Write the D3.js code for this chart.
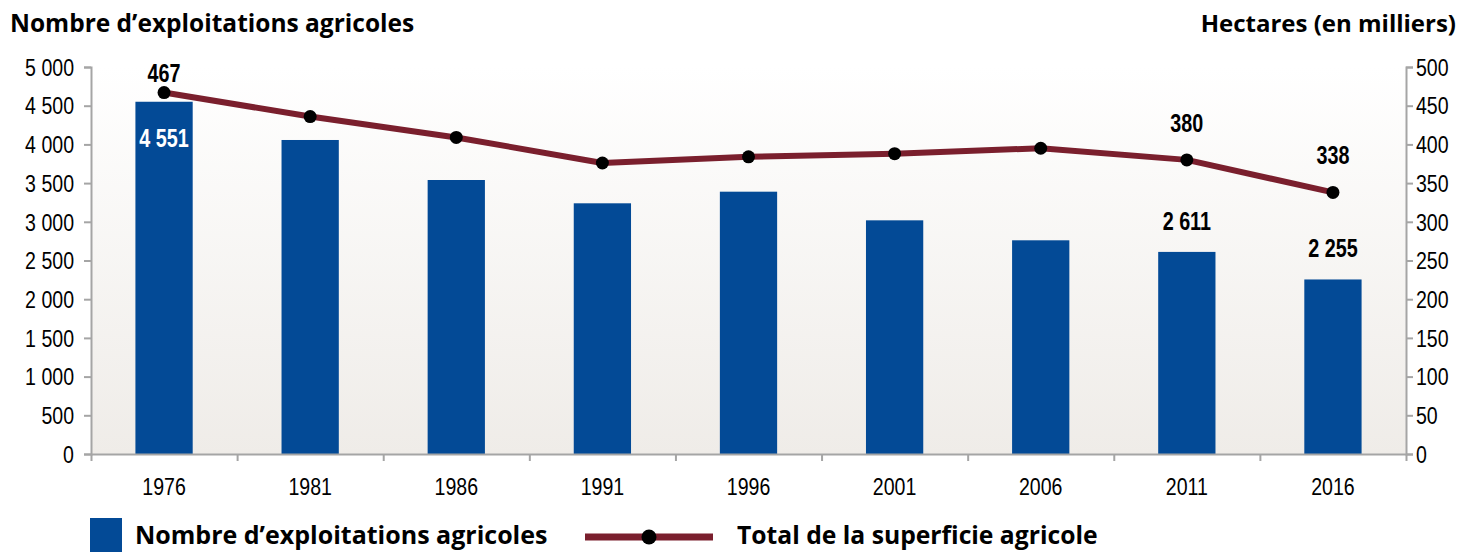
<!DOCTYPE html>
<html>
<head>
<meta charset="utf-8">
<script src="https://cdn.jsdelivr.net/npm/d3@7"></script>
<style>
  html, body { margin: 0; padding: 0; background: #fff; }
  svg text { fill: #000; }
  .narrow { font-family: "Liberation Sans", Arial, sans-serif; }
  .title { font-family: "Open Sans", "Noto Sans", sans-serif; font-weight: 700; }
</style>
</head>
<body>
<div id="chart"></div>
<script>
// Data
const years = ["1976", "1981", "1986", "1991", "1996", "2001", "2006", "2011", "2016"];
const farms = [4551, 4057, 3540, 3239, 3389, 3019, 2761, 2611, 2255];
const hectares = [467, 436, 409, 376, 384, 388, 395, 380, 338];
const leftTicks = [0, 500, 1000, 1500, 2000, 2500, 3000, 3500, 4000, 4500, 5000];
const rightTicks = [0, 50, 100, 150, 200, 250, 300, 350, 400, 450, 500];
const farmLabelYears = ["1976", "2011", "2016"];
const haLabelYears = ["1976", "2011", "2016"];

// Colors
const barColor = "#034a96";
const lineColor = "#7a1f2d";
const axisColor = "#a5a5a5";

const width = 1465, height = 552;
const plotLeft = 91, plotRight = 1406, plotTop = 67, plotBottom = 454;

const fr = d3.formatLocale({ decimal: ",", thousands: " ", grouping: [3], currency: ["", " €"] });
const fmt = fr.format(",d");

// squeeze text horizontally to mimic a condensed face
function squeeze(sel, k) {
    sel.each(function () {
        const w = this.getComputedTextLength();
        d3.select(this).attr("textLength", w * k).attr("lengthAdjust", "spacingAndGlyphs");
    });
}

const svg = d3.select("#chart").append("svg")
    .attr("width", width)
    .attr("height", height)
    .attr("viewBox", [0, 0, width, height]);

const x = d3.scaleBand().domain(years).range([plotLeft, plotRight]).paddingInner(0.608).paddingOuter(0.304);
const yL = d3.scaleLinear().domain([0, 5000]).range([plotBottom, plotTop]);
const yR = d3.scaleLinear().domain([0, 500]).range([plotBottom, plotTop]);

// Plot background gradient
const grad = svg.append("defs").append("linearGradient")
    .attr("id", "bg").attr("x1", 0).attr("y1", 0).attr("x2", 0).attr("y2", 1);
grad.append("stop").attr("offset", "0%").attr("stop-color", "#ffffff");
grad.append("stop").attr("offset", "100%").attr("stop-color", "#efece8");

svg.append("rect")
    .attr("x", plotLeft).attr("y", plotTop)
    .attr("width", plotRight - plotLeft).attr("height", plotBottom - plotTop)
    .attr("fill", "url(#bg)");

// Bars
svg.append("g")
    .selectAll("rect")
    .data(years)
    .join("rect")
    .attr("x", d => x(d))
    .attr("y", (d, i) => yL(farms[i]))
    .attr("width", x.bandwidth())
    .attr("height", (d, i) => plotBottom - yL(farms[i]))
    .attr("fill", barColor);

// Axes
function styleAxis(g) {
    g.select(".domain").attr("stroke", axisColor).attr("stroke-width", 2);
    g.selectAll(".tick line").attr("stroke", axisColor).attr("stroke-width", 2);
    g.selectAll("text")
        .attr("class", "narrow")
        .style("font-size", "23px")
        .attr("fill", "#000")
        .call(squeeze, 0.85);
}

svg.append("g")
    .attr("transform", `translate(${plotLeft},0)`)
    .call(d3.axisLeft(yL).tickValues(leftTicks).tickFormat(fmt).tickSize(7).tickPadding(10))
    .call(g => g.selectAll("text").attr("dy", "0.36em"))
    .call(styleAxis);

svg.append("g")
    .attr("transform", `translate(${plotRight},0)`)
    .call(d3.axisRight(yR).tickValues(rightTicks).tickFormat(fmt).tickSize(7).tickPadding(3))
    .call(g => g.selectAll("text").attr("dy", "0.36em"))
    .call(styleAxis);

// x axis: tick marks on band edges, labels at centres
const edges = d3.scaleLinear().domain([0, years.length]).range([plotLeft, plotRight]);
svg.append("g")
    .attr("transform", `translate(0,${plotBottom})`)
    .call(d3.axisBottom(edges).tickValues(d3.range(0, years.length + 1)).tickFormat("").tickSize(7).tickSizeOuter(0))
    .call(styleAxis);

svg.append("g")
    .attr("transform", `translate(0,${plotBottom})`)
    .call(d3.axisBottom(x).tickSize(0).tickPadding(25))
    .call(g => g.select(".domain").remove())
    .call(styleAxis);

// Line
const line = d3.line()
    .x((d, i) => x(years[i]) + x.bandwidth() / 2)
    .y(d => yR(d));

svg.append("path")
    .datum(hectares)
    .attr("d", line)
    .attr("fill", "none")
    .attr("stroke", lineColor)
    .attr("stroke-width", 6)
    .attr("stroke-linejoin", "round");

svg.append("g")
    .selectAll("circle")
    .data(hectares)
    .join("circle")
    .attr("cx", (d, i) => x(years[i]) + x.bandwidth() / 2)
    .attr("cy", d => yR(d))
    .attr("r", 6.5)
    .attr("fill", "#000");

// Value labels
const labels = svg.append("g").attr("class", "narrow")
    .style("font-size", "25px").style("font-weight", "700")
    .attr("text-anchor", "middle");

years.forEach((yr, i) => {
    const cx = x(yr) + x.bandwidth() / 2;
    if (haLabelYears.includes(yr)) {
        labels.append("text")
            .attr("x", cx)
            .attr("y", yR(hectares[i]) - (i === 0 ? 11 : 28))
            .text(fmt(hectares[i]));
    }
    if (farmLabelYears.includes(yr)) {
        const inside = i === 0;
        labels.append("text")
            .attr("x", cx)
            .attr("y", inside ? yL(farms[i]) + 45 : yL(farms[i]) - 22)
            .style("fill", inside ? "#fff" : "#000")
            .text(fmt(farms[i]));
    }
});
labels.selectAll("text").call(squeeze, 0.79);

// Titles
svg.append("text").attr("class", "title")
    .attr("x", 10).attr("y", 32)
    .style("font-size", "24.5px")
    .text("Nombre d’exploitations agricoles");

svg.append("text").attr("class", "title")
    .attr("x", 1456).attr("y", 32)
    .attr("text-anchor", "end")
    .style("font-size", "24px")
    .text("Hectares (en milliers)");

// Legend
const legend = svg.append("g");
legend.append("rect")
    .attr("x", 90).attr("y", 518).attr("width", 32).attr("height", 34)
    .attr("fill", barColor);
legend.append("text").attr("class", "title")
    .attr("x", 135).attr("y", 544)
    .style("font-size", "25px")
    .text("Nombre d’exploitations agricoles");

legend.append("line")
    .attr("x1", 585).attr("x2", 713).attr("y1", 537).attr("y2", 537)
    .attr("stroke", lineColor).attr("stroke-width", 7);
legend.append("circle")
    .attr("cx", 649).attr("cy", 537).attr("r", 7.5).attr("fill", "#000");
legend.append("text").attr("class", "title")
    .attr("x", 737).attr("y", 544)
    .style("font-size", "24.7px")
    .text("Total de la superficie agricole");
</script>
</body>
</html>
